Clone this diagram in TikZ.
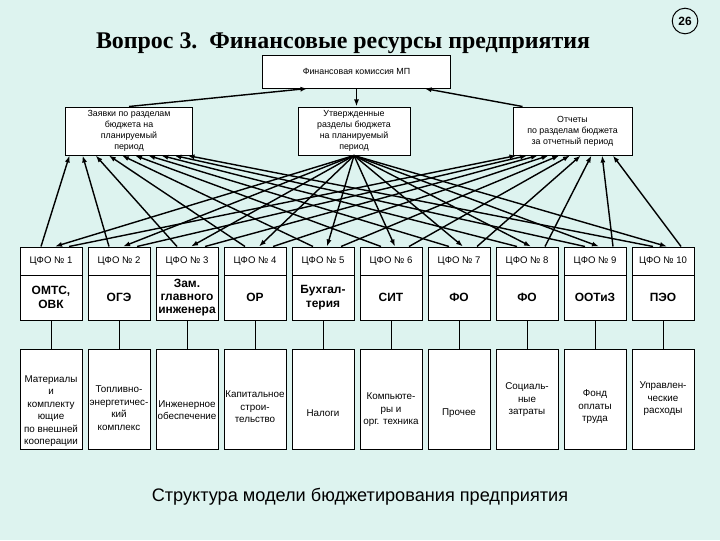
\documentclass[tikz,border=0pt]{standalone}
\usepackage{fontspec}
\setmainfont{Liberation Sans}
\newfontfamily\titlefont{Liberation Serif}
\usetikzlibrary{arrows.meta}
\definecolor{slidebg}{RGB}{221,243,239}
\tikzset{
  box/.style={draw,fill=white,line width=.7pt,inner sep=1pt,align=center},
  smalltxt/.style={font=\fontsize{6.3}{7.8}\selectfont},
  hdr/.style={box,minimum width=1.55cm,minimum height=.7cm,font=\fontsize{6.8}{8}\selectfont},
  org/.style={box,minimum width=1.55cm,minimum height=1.125cm,font=\bfseries\fontsize{8.5}{9.5}\selectfont},
  resbox/.style={box,minimum width=1.55cm,minimum height=2.5cm},
  restxt/.style={align=center,inner sep=0pt,font=\fontsize{7}{8.9}\selectfont},
  arr/.style={line width=1pt,-{Latex[length=5pt,width=3.6pt]}}
}
\begin{document}
\begin{tikzpicture}[x=.025cm,y=-.025cm,line width=.7pt]
\fill[slidebg] (0,0) rectangle (720,540);
\useasboundingbox (0,0) rectangle (720,540);
\node[circle,draw,minimum size=.64cm,inner sep=0pt,font=\bfseries\fontsize{8.5}{9}\selectfont] (num) at (685,21) {26};
\node[font=\titlefont\bfseries\fontsize{17}{19}\selectfont] (title) at (343,43) {Вопрос 3.\ \ Финансовые ресурсы предприятия};
\node[box,smalltxt,minimum width=4.675cm,minimum height=.825cm] (fk) at (356.5,71.5) {Финансовая комиссия МП};
\node[box,smalltxt,minimum width=3.15cm,minimum height=1.2cm] (zay) at (129,131) {Заявки по разделам\\бюджета на\\планируемый\\период};
\node[box,smalltxt,minimum width=2.8cm,minimum height=1.2cm] (utv) at (354,131) {Утвержденные\\разделы бюджета\\на планируемый\\период};
\node[box,smalltxt,minimum width=2.975cm,minimum height=1.2cm] (otch) at (572.5,131) {Отчеты\\по разделам бюджета\\за отчетный период};
\draw[arr] (zay.north) -- ([xshift=1.125cm]fk.south west);
\draw[arr] (fk.south) -- (fk.south |- utv.north);
\draw[arr] ([xshift=.25cm]otch.north west) -- ([xshift=-.65cm]fk.south east);
\foreach \i/\org/\res/\ty [evaluate=\i as \x using {51+68*(\i-1)}] in {
  1/{ОМТС,\\ОВК}/{Материалы\\и\\комплекту\\ющие\\по внешней\\кооперации}/411,
  2/{ОГЭ}/{Топливно-\\энергетичес-\\кий\\комплекс}/408,
  3/{Зам.\\главного\\инженера}/{Инженерное\\обеспечение}/410,
  4/{ОР}/{Капитальное\\строи-\\тельство}/407,
  5/{Бухгал-\\терия}/{Налоги}/413,
  6/{СИТ}/{Компьюте-\\ры и\\орг. техника}/410,
  7/{ФО}/{Прочее}/413,
  8/{ФО}/{Социаль-\\ные\\затраты}/400,
  9/{ООТиЗ}/{Фонд\\оплаты\\труда}/407,
  10/{ПЭО}/{Управлен-\\ческие\\расходы}/399}{
  \node[hdr] (h\i) at (\x,261) {ЦФО № \i};
  \node[org] (o\i) at (\x,297.5) {\org};
  \node[resbox] (r\i) at (\x,399) {};
  \node[restxt] (t\i) at (\x,\ty) {\res};
  \draw (o\i) -- (r\i);
}
\foreach \i [evaluate=\i as \dl using {0.1+0.3275*(\i-1)}, evaluate=\i as \dr using {0.1+0.2675*(\i-1)}] in {1,...,10}{
  \draw[arr] ([xshift=-.25cm]h\i.north) -- ([xshift=\dl cm]zay.south west);
  \draw[arr] (utv.south) -- ([xshift=.1cm]h\i.north);
  \draw[arr] ([xshift=.45cm]h\i.north) -- ([xshift=\dr cm]otch.south west);
}
\node[font=\fontsize{12.9}{15}\selectfont] (cap) at (360,497) {Структура модели бюджетирования предприятия};
\end{tikzpicture}
\end{document}
